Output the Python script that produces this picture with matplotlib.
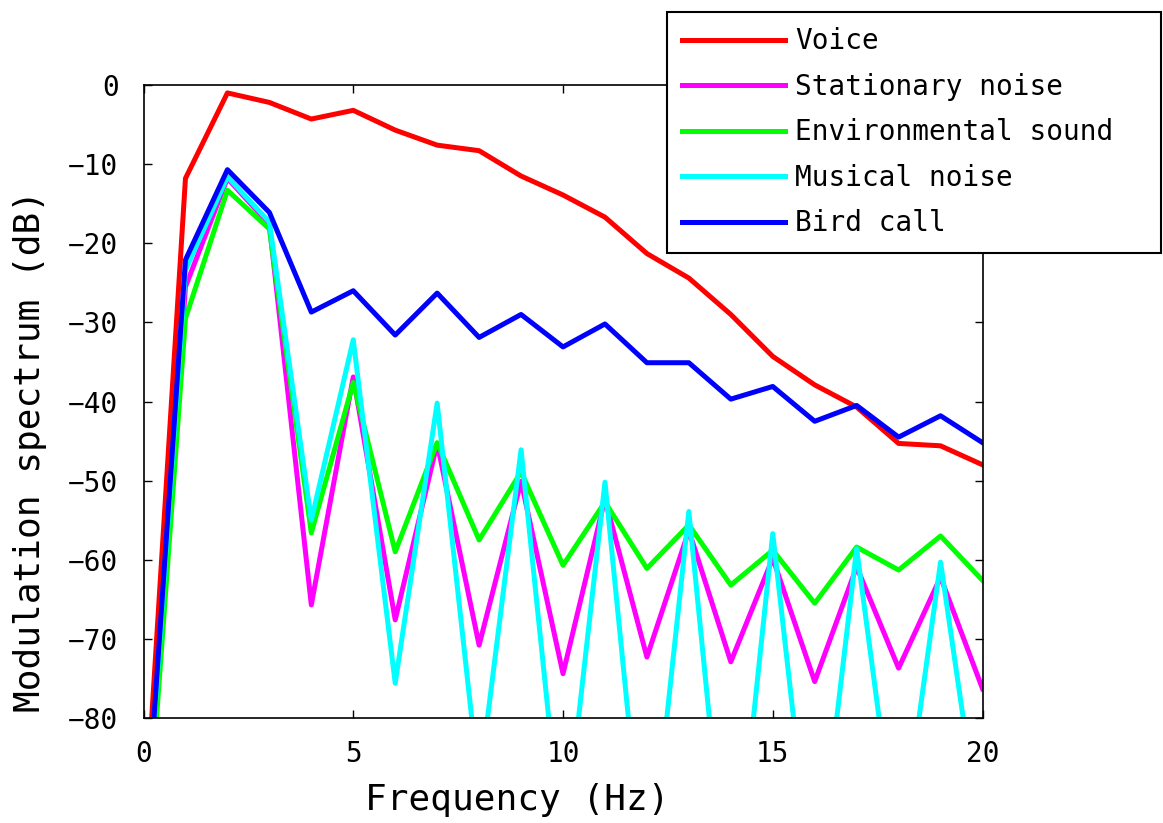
import numpy as np
import matplotlib
matplotlib.use("Agg")
import matplotlib.pyplot as plt

plt.rcParams['font.family'] = ['DejaVu Sans Mono']

# modulation frequency bins (Hz)
freq = np.arange(0, 21)

# modulation spectra (dB) per sound class
voice = [-96.5, -11.8, -1.0, -2.2, -4.3, -3.2, -5.7, -7.6, -8.3, -11.5, -13.9,
         -16.7, -21.3, -24.4, -29.0, -34.3, -37.9, -40.7, -45.3, -45.6, -48.0]
stationary = [-102.0, -25.5, -11.8, -17.6, -65.7, -36.9, -67.6, -45.3, -70.8, -50.1, -74.4,
              -52.3, -72.3, -56.3, -72.9, -59.8, -75.4, -60.9, -73.7, -62.2, -76.3]
environmental = [-102.7, -29.5, -13.3, -18.2, -56.6, -37.6, -59.0, -45.2, -57.5, -48.9, -60.7,
                 -52.7, -61.1, -55.6, -63.2, -58.8, -65.5, -58.4, -61.3, -57.0, -62.6]
musical = [-100.0, -23.4, -11.6, -17.3, -55.0, -32.2, -75.6, -40.2, -88.5, -46.1, -97.5,
           -50.2, -103.5, -53.9, -107.3, -56.7, -103.7, -58.6, -98.6, -60.3, -96.8]
bird = [-99.3, -22.1, -10.7, -16.1, -28.7, -26.0, -31.6, -26.3, -31.9, -29.0, -33.1,
        -30.2, -35.1, -35.1, -39.7, -38.1, -42.5, -40.5, -44.5, -41.8, -45.2]

labels = ['Voice', 'Stationary noise', 'Environmental sound', 'Musical noise', 'Bird call']
colors = ['#ff0000', '#ff00ff', '#00ff00', '#00ffff', '#0000ff']

fig = plt.figure(figsize=(11.63, 8.23), dpi=100)
ax = fig.add_axes([0.1234, 0.1276, 0.7214, 0.7691])

for y, lab, c in zip([voice, stationary, environmental, musical, bird], labels, colors):
    ax.plot(freq, y, color=c, lw=3.6, label=lab)

ax.set_xlim(0, 20)
ax.set_ylim(-80, 0)
ax.set_xticks([0, 5, 10, 15, 20])
ax.set_yticks(np.arange(-80, 1, 10))
ax.tick_params(direction='in', length=6, width=1, top=True, right=True, labelsize=20)
ax.tick_params(axis='x', pad=16)
ax.tick_params(axis='y', pad=18)
for s in ax.spines.values():
    s.set_linewidth(1.2)

ax.set_xlabel('Frequency (Hz)', fontsize=26, va='center')
ax.xaxis.set_label_coords(0.445, -0.13)
ax.set_ylabel('Modulation spectrum (dB)', fontsize=26, va='center')
ax.yaxis.set_label_coords(-0.135, 0.422)

h, l = ax.get_legend_handles_labels()
leg = fig.legend(h, l, loc='upper left', mode='expand',
                 bbox_to_anchor=(667/1163, 1 - 12/823, 494/1163, 0.0),
                 borderaxespad=0, fontsize=20, handlelength=3.7, handletextpad=0.35,
                 labelspacing=0.63, borderpad=0.55, fancybox=False,
                 framealpha=1, edgecolor='black')
leg.get_frame().set_linewidth(1.5)

fig.savefig('out.png', dpi=100)
